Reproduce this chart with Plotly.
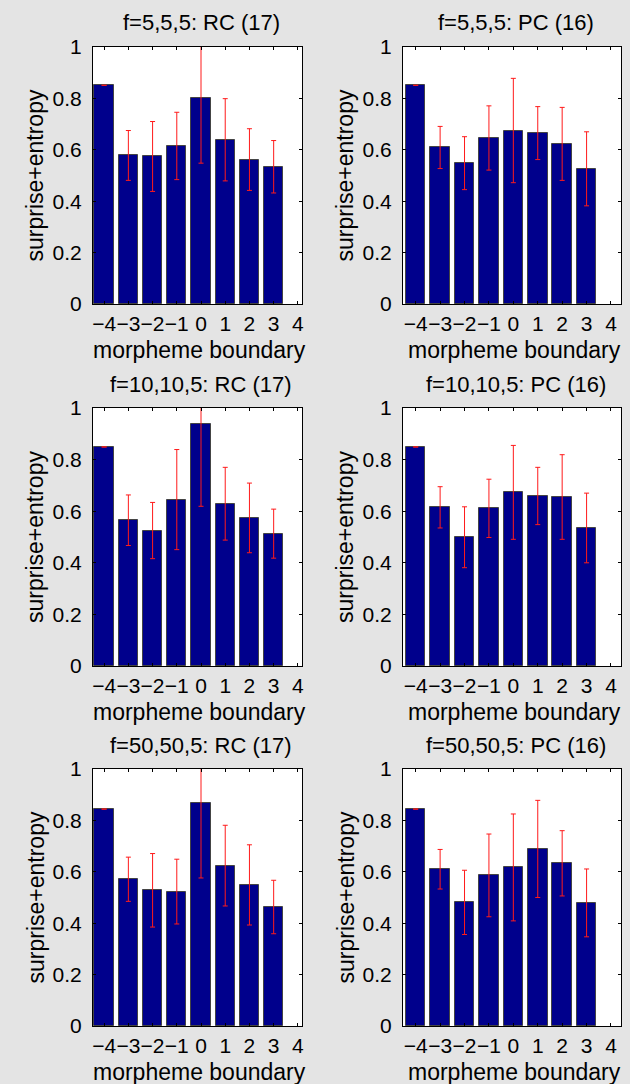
import plotly.graph_objects as go

boundary = [-4, -3, -2, -1, 0, 1, 2, 3]
tick_vals = [-4, -3, -2, -1, 0, 1, 2, 3, 4]
tick_text = ["\u22124", "\u22123", "\u22122", "\u22121", "0", "1", "2", "3", "4"]
y_ticks = [0, 0.2, 0.4, 0.6, 0.8, 1]
y_tick_text = ["0", "0.2", "0.4", "0.6", "0.8", "1"]

titles = ["f=5,5,5: RC (17)", "f=5,5,5: PC (16)",
          "f=10,10,5: RC (17)", "f=10,10,5: PC (16)",
          "f=50,50,5: RC (17)", "f=50,50,5: PC (16)"]

rc_5 = [0.851, 0.578, 0.574, 0.615, 0.803, 0.639, 0.562, 0.534]
rc_5_err = [0.0, 0.097, 0.136, 0.131, 0.255, 0.160, 0.120, 0.102]
pc_5 = [0.851, 0.609, 0.548, 0.646, 0.675, 0.665, 0.623, 0.526]
pc_5_err = [0.0, 0.082, 0.103, 0.125, 0.203, 0.103, 0.142, 0.144]

rc_10 = [0.849, 0.565, 0.525, 0.645, 0.939, 0.629, 0.574, 0.513]
rc_10_err = [0.0, 0.098, 0.109, 0.194, 0.320, 0.141, 0.135, 0.095]
pc_10 = [0.849, 0.615, 0.499, 0.611, 0.673, 0.659, 0.655, 0.535]
pc_10_err = [0.0, 0.080, 0.118, 0.113, 0.182, 0.111, 0.164, 0.135]

rc_50 = [0.844, 0.571, 0.528, 0.523, 0.869, 0.624, 0.549, 0.463]
rc_50_err = [0.0, 0.086, 0.143, 0.126, 0.293, 0.157, 0.156, 0.104]
pc_50 = [0.844, 0.610, 0.481, 0.586, 0.617, 0.689, 0.633, 0.479]
pc_50_err = [0.0, 0.077, 0.125, 0.161, 0.208, 0.189, 0.127, 0.132]

series = [(rc_5, rc_5_err), (pc_5, pc_5_err),
          (rc_10, rc_10_err), (pc_10, pc_10_err),
          (rc_50, rc_50_err), (pc_50, pc_50_err)]

W, H = 630, 1084
col_px = [(93, 302), (403, 621)]
row_px = [(47, 304), (408, 666), (769, 1026)]
x_ranges = [[-4.46, 4.17], [-4.52, 4.41]]

FONT = "Liberation Sans, Arial, sans-serif"
fig = go.Figure()
annotations = []
layout = {}

for i, (vals, errs) in enumerate(series):
    r, c = divmod(i, 2)
    n = i + 1
    xa = "xaxis" if n == 1 else f"xaxis{n}"
    ya = "yaxis" if n == 1 else f"yaxis{n}"
    xref = "x" if n == 1 else f"x{n}"
    yref = "y" if n == 1 else f"y{n}"
    x0, x1 = col_px[c]
    y0, y1 = row_px[r]
    fig.add_trace(go.Bar(
        x=boundary, y=vals, width=0.8,
        marker=dict(color="#00008c", line=dict(color="#444444", width=1)),
        error_y=dict(type="data", array=errs, visible=True,
                     color="#ff1a1a", thickness=1, width=2.5),
        xaxis=xref, yaxis=yref, showlegend=False,
    ))
    layout[xa] = dict(
        domain=[x0 / W, x1 / W], anchor=yref, range=x_ranges[c],
        tickvals=tick_vals, ticktext=tick_text, ticks="inside", ticklen=3,
        tickcolor="black", showline=True, linecolor="black", linewidth=1,
        mirror="ticks", showgrid=False, zeroline=False, tickangle=0,
        tickfont=dict(family=FONT, size=21, color="black"),
        ticklabelstandoff=1, automargin=False,
    )
    layout[ya] = dict(
        domain=[1 - y1 / H, 1 - y0 / H], anchor=xref, range=[0, 1],
        tickvals=y_ticks, ticktext=y_tick_text, ticks="inside", ticklen=3,
        tickcolor="black", showline=True, linecolor="black", linewidth=1,
        mirror="ticks", showgrid=False, zeroline=False,
        tickfont=dict(family=FONT, size=21, color="black"),
        ticklabelstandoff=6, automargin=False,
    )
    cx = (x0 + x1) / 2 / W
    annotations.append(dict(
        text=titles[i], x=(x0 + x1) / 2 / W + 4 / W, y=1 - (y0 - 24) / H,
        xref="paper", yref="paper", xanchor="center", yanchor="middle",
        showarrow=False, font=dict(family=FONT, size=22, color="black")))
    annotations.append(dict(
        text="morpheme boundary", x=cx + 2 / W, y=1 - (y1 + 46) / H,
        xref="paper", yref="paper", xanchor="center", yanchor="middle",
        showarrow=False, font=dict(family=FONT, size=23, color="black")))
    annotations.append(dict(
        text="surprise+entropy", x=(x0 - 58) / W, y=1 - (y0 + y1) / 2 / H,
        xref="paper", yref="paper", xanchor="center", yanchor="middle",
        textangle=-90, showarrow=False,
        font=dict(family=FONT, size=23, color="black")))

fig.update_layout(
    width=W, height=H, margin=dict(l=0, r=0, t=0, b=0, autoexpand=False),
    paper_bgcolor="#e4e4e4", plot_bgcolor="white",
    annotations=annotations, bargap=0, **layout,
)
fig.write_html("out.html")
